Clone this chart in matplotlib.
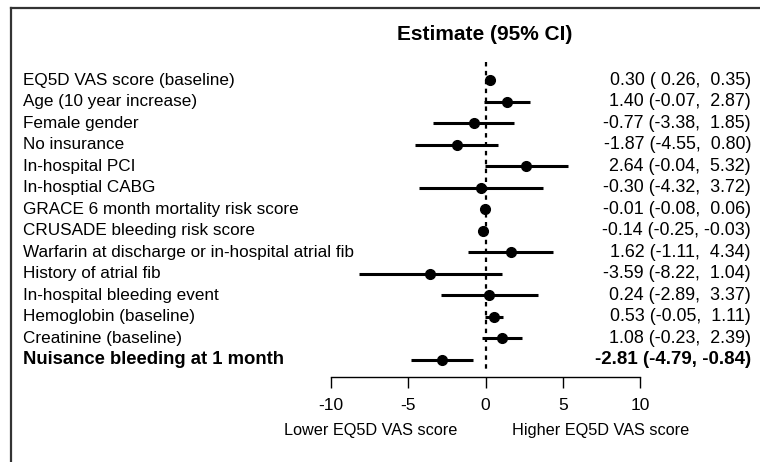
import matplotlib
matplotlib.use("Agg")
import matplotlib.pyplot as plt
from matplotlib.lines import Line2D
import matplotlib.transforms as mtransforms

plt.rcParams['font.family'] = ['Liberation Sans', 'DejaVu Sans']

labels = [
    "EQ5D VAS score (baseline)",
    "Age (10 year increase)",
    "Female gender",
    "No insurance",
    "In-hospital PCI",
    "In-hosptial CABG",
    "GRACE 6 month mortality risk score",
    "CRUSADE bleeding risk score",
    "Warfarin at discharge or in-hospital atrial fib",
    "History of atrial fib",
    "In-hospital bleeding event",
    "Hemoglobin (baseline)",
    "Creatinine (baseline)",
    "Nuisance bleeding at 1 month",
]
estimate = [0.30, 1.40, -0.77, -1.87, 2.64, -0.30, -0.01, -0.14, 1.62, -3.59, 0.24, 0.53, 1.08, -2.81]
ci_low = [0.26, -0.07, -3.38, -4.55, -0.04, -4.32, -0.08, -0.25, -1.11, -8.22, -2.89, -0.05, -0.23, -4.79]
ci_high = [0.35, 2.87, 1.85, 0.80, 5.32, 3.72, 0.06, -0.03, 4.34, 1.04, 3.37, 1.11, 2.39, -0.84]
x_ticks = [-10, -5, 0, 5, 10]

W, H = 760, 462
fig = plt.figure(figsize=(W / 100, H / 100), dpi=100)

# plot panel: x from -10 (px 331) to 10 (px 640), bottom axis line at px 377
ax = fig.add_axes([331 / W, (H - 377) / H, 309 / W, 315 / H])
ax.set_xlim(-10, 10)
ax.set_ylim(13.79, -0.836)

ax.plot([0, 0], [-0.84, 13.45], color='black', lw=1.6, ls=(0, (2, 2)))
for i in range(len(labels)):
    ax.plot([ci_low[i], ci_high[i]], [i, i], color='black', lw=2.2, solid_capstyle='butt')
    ax.plot(estimate[i], i, 'o', color='black', ms=7)

for s in ['top', 'right', 'left']:
    ax.spines[s].set_visible(False)
ax.spines['bottom'].set_linewidth(1.0)
ax.set_yticks([])
ax.set_xticks(x_ticks)
ax.set_xticklabels([str(t) for t in x_ticks])
ax.tick_params(axis='x', length=8, width=1.0, labelsize=12.5, pad=7)

# row labels and estimate text (last row is the highlighted one)
trans = mtransforms.blended_transform_factory(fig.transFigure, ax.transData)
for i, lab in enumerate(labels):
    bold = i == len(labels) - 1
    ax.text(23 / W, i, lab, transform=trans, ha='left', va='center',
            fontsize=13.3 if bold else 12.3, fontweight='bold' if bold else 'normal')
    val = f"{estimate[i]:.2f} ({ci_low[i]:5.2f}, {ci_high[i]:5.2f})"
    ax.text(751 / W, i, val, transform=trans, ha='right', va='center',
            fontsize=13.5 if bold else 12.9, fontweight='bold' if bold else 'normal')

fig.text(485 / W, 1 - 34 / H, "Estimate (95% CI)", ha='center', va='center',
         fontsize=15, fontweight='bold')

trans2 = mtransforms.blended_transform_factory(ax.transData, fig.transFigure)
ax.text(-1.8, 1 - 430 / H, "Lower EQ5D VAS score", transform=trans2,
        ha='right', va='center', fontsize=11.7)
ax.text(1.7, 1 - 430 / H, "Higher EQ5D VAS score", transform=trans2,
        ha='left', va='center', fontsize=11.7)

# outer frame (only top and left edges visible)
fig.add_artist(Line2D([10.5 / W, 1], [1 - 7.5 / H, 1 - 7.5 / H], transform=fig.transFigure,
                      color='#333333', lw=1.6))
fig.add_artist(Line2D([10.5 / W, 10.5 / W], [0, 1 - 7.5 / H], transform=fig.transFigure,
                      color='#333333', lw=1.6))

fig.savefig("out.png", dpi=100)
